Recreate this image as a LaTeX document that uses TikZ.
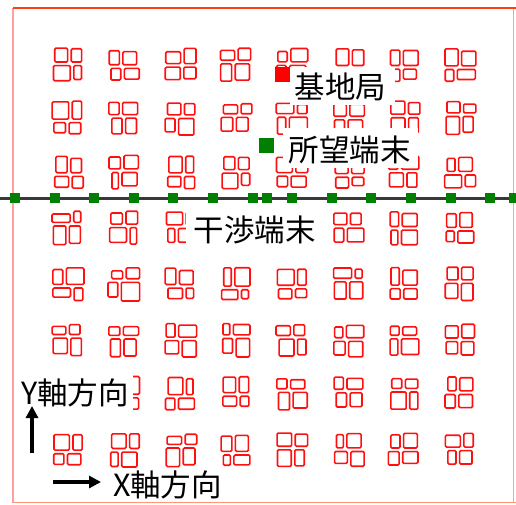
\documentclass[tikz,border=0pt]{standalone}
\usepackage{fontspec}
\usetikzlibrary{arrows.meta}
\newfontfamily\jpfont{Noto Sans CJK JP}
\definecolor{bred}{HTML}{FF1010}
\definecolor{tgreen}{HTML}{007F00}
\definecolor{lgray}{HTML}{383838}
\definecolor{framepink}{HTML}{FFA0A0}
\definecolor{frametop}{HTML}{FF4010}
\definecolor{framebot}{HTML}{FF9A70}
\tikzset{
  bld/.style={draw=bred, line width=1.6pt, rounded corners=1.2pt},
  lab/.style={font=\jpfont\fontsize{30.5pt}{32pt}\selectfont, inner sep=0pt, text=black},
  labbox/.style={fill=white, inner sep=0pt},
  iterm/.style={fill=tgreen, minimum size=10pt, inner sep=0pt},
  sqnode/.style={minimum size=15pt, inner sep=0pt},
  axarrow/.style={line width=3.4pt, -{Triangle[length=12pt,width=12pt]}}
}
\newcommand{\bldgblk}[2]{%
  \pgfmathsetmacro{\bMXt}{#1+(rnd-0.5)*9}%
  \pgfmathsetmacro{\bMXb}{#1+(rnd-0.5)*9}%
  \pgfmathsetmacro{\bMY}{#2+(rnd-0.5)*8}%
  \pgfmathsetmacro{\bLa}{#1-16+rnd*4}%
  \pgfmathsetmacro{\bTa}{#2-17+rnd*4}%
  \pgfmathsetmacro{\bRb}{#1+16-rnd*4}%
  \pgfmathsetmacro{\bTb}{#2-17+rnd*4}%
  \pgfmathsetmacro{\bLc}{#1-16+rnd*4}%
  \pgfmathsetmacro{\bBc}{#2+17-rnd*4}%
  \pgfmathsetmacro{\bRd}{#1+16-rnd*4}%
  \pgfmathsetmacro{\bBd}{#2+17-rnd*4}%
  \draw[bld] (\bLa,\bTa) rectangle (\bMXt-1.8,\bMY-1.8);
  \draw[bld] (\bMXt+1.8,\bTb) rectangle (\bRb,\bMY-1.8);
  \draw[bld] (\bLc,\bMY+1.8) rectangle (\bMXb-1.8,\bBc);
  \draw[bld] (\bMXb+1.8,\bMY+1.8) rectangle (\bRd,\bBd);
}
\begin{document}
\begin{tikzpicture}[x=1pt,y=-1pt]
\useasboundingbox (0,0) rectangle (516,504);
\fill[white] (0,0) rectangle (516,504);
% frame
\draw[framepink, line width=1.5pt] (13,8) -- (13,502.5);
\draw[framepink, line width=1.5pt] (513.5,8) -- (513.5,502.5);
\draw[framebot, line width=1.5pt] (13,502.5) -- (516,502.5);
\draw[frametop, line width=1.8pt] (13,8.3) -- (516,8.3);
% buildings
\pgfmathsetseed{11}
\foreach \cy in {65,118,172,228,284,340,393,450}{
  \foreach \cx in {68,124,181,236,292,349,404,460}{
    \bldgblk{\cx}{\cy}
  }
}
% line of interfering terminals
\coordinate (lineL) at (0,198);
\coordinate (lineR) at (516,198);
\draw[lgray, line width=3pt] (lineL) -- (lineR);
\foreach \i/\px in {1/15,2/54.6,3/94.2,4/133.8,5/173.4,6/213,7/252.6,8/267,9/292.2,10/331.8,11/371.4,12/411,13/450.6,14/490.2,15/514}{
  \node[iterm] (it\i) at (\px,198) {};
}
% label boxes and labels
\node[labbox, minimum width=105pt, minimum height=38pt] (bsbox) at (342,86) {};
\node[lab] (bslab) at (340.5,86.5) {基地局};
\node[labbox, minimum width=135pt, minimum height=40pt] (dtbox) at (350.5,148) {};
\node[lab] (dtlab) at (349.5,150) {所望端末};
\node[labbox, minimum width=140pt, minimum height=42pt] (itbox) at (256,229) {};
\node[lab] (itlab) at (254.5,230) {干渉端末};
\node[labbox, minimum width=117pt, minimum height=40pt] (yabox) at (74.5,392) {};
\node[lab] (yalab) at (75,392.5) {Y軸方向};
\node[lab] (xalab) at (167.5,485) {X軸方向};
% base station and desired terminal
\node[sqnode, fill=red] (bs) at (282.5,74.5) {};
\node[sqnode, fill=tgreen] (dt) at (266.5,145.5) {};
% axis arrows
\coordinate (yS) at (32,453);
\coordinate (yE) at (32,406);
\coordinate (xS) at (53,482);
\coordinate (xE) at (101,482);
\draw[axarrow] (yS) -- (yE);
\draw[axarrow] (xS) -- (xE);
\end{tikzpicture}
\end{document}
